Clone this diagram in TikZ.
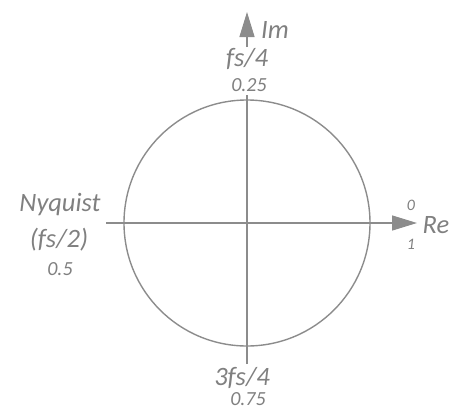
\documentclass[tikz,border=0pt]{standalone}
\usepackage{fontspec}
\setmainfont{Carlito}
\usetikzlibrary{arrows.meta}
\definecolor{axisgray}{HTML}{8C8C8C}
\definecolor{textgray}{HTML}{808080}
\begin{document}
\begin{tikzpicture}[x=1pt,y=-1pt,
  axisline/.style={draw=axisgray,line width=1.4pt},
  axisarrow/.style={axisline,-{Triangle[length=25pt,width=15pt]}},
  biglabel/.style={text=textgray,font=\fontsize{26.5}{29}\selectfont\itshape,inner sep=0pt},
  numlabel/.style={text=textgray,font=\fontsize{20}{22}\selectfont\itshape,inner sep=0pt},
  smalllabel/.style={text=textgray,font=\fontsize{16}{18}\selectfont\itshape,inner sep=0pt}]
\useasboundingbox (0,0) rectangle (456,410);
% circle
\node[circle,draw=axisgray,line width=1.4pt,minimum size=246pt,inner sep=0pt] (unit) at (247,223) {};
% axis end points
\coordinate (hl) at (106,223);
\coordinate (hr) at (417,223);
\coordinate (vb) at (247,364);
\coordinate (vm) at (247,95);
\coordinate (vs) at (247,47);
\coordinate (vt) at (247,12);
\draw[axisarrow] (hl) -- (hr);
\draw[axisline] (vb) -- (vm);
\draw[axisarrow] (vs) -- (vt);
% labels
\node[biglabel] (im) at (275,30) {Im};
\node[biglabel] (fs4) at (247,59) {fs/4};
\node[numlabel] (q1) at (249,85) {0.25};
\node[biglabel] (re) at (436,225) {Re};
\node[smalllabel] (zero) at (411,205) {0};
\node[smalllabel] (one) at (411,244) {1};
\node[biglabel] (nyq) at (60,205) {Nyquist};
\node[biglabel] (fs2) at (59,240) {(fs/2)};
\node[numlabel] (half) at (60,269) {0.5};
\node[biglabel] (fs34) at (242,378) {3fs/4};
\node[numlabel] (q3) at (248,399) {0.75};
\end{tikzpicture}
\end{document}
